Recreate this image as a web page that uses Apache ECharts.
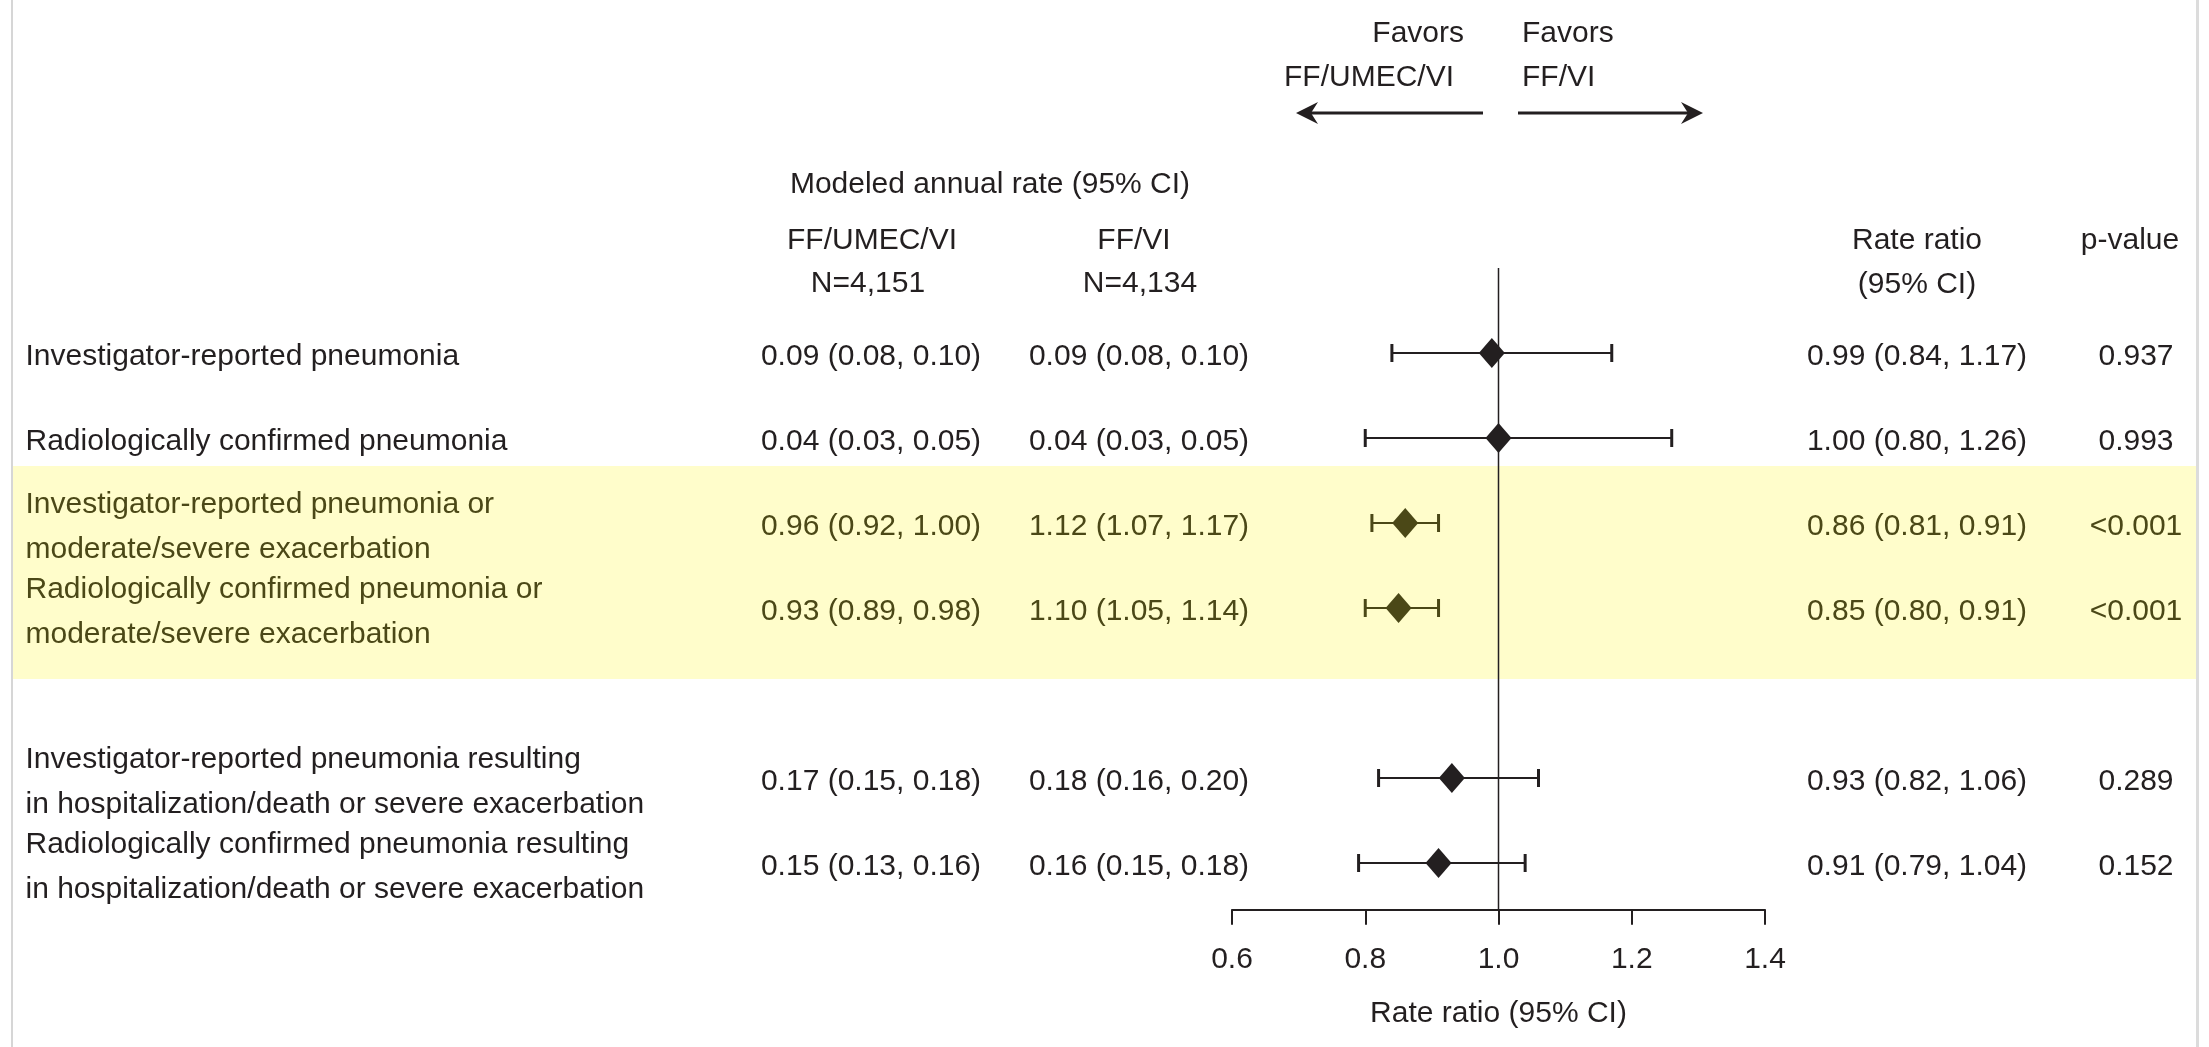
<!DOCTYPE html>
<html>
<head>
<meta charset="utf-8">
<script src="https://cdn.jsdelivr.net/npm/echarts@6/dist/echarts.min.js"></script>
<style>
html,body{margin:0;padding:0;background:#fff;}
#chart{width:2209px;height:1047px;}
</style>
</head>
<body>
<div id="chart"></div>
<script>
// ---------------- DATA ----------------
const outcomes = [
  "Investigator-reported pneumonia",
  "Radiologically confirmed pneumonia",
  "Investigator-reported pneumonia or\nmoderate/severe exacerbation",
  "Radiologically confirmed pneumonia or\nmoderate/severe exacerbation",
  "Investigator-reported pneumonia resulting\nin hospitalization/death or severe exacerbation",
  "Radiologically confirmed pneumonia resulting\nin hospitalization/death or severe exacerbation"
];
const rowIndex = [0, 1, 2, 3, 5, 6];
const highlighted = [false, false, true, true, false, false];

const triRate = [0.09, 0.04, 0.96, 0.93, 0.17, 0.15];
const triLow  = [0.08, 0.03, 0.92, 0.89, 0.15, 0.13];
const triHigh = [0.10, 0.05, 1.00, 0.98, 0.18, 0.16];

const dualRate = [0.09, 0.04, 1.12, 1.10, 0.18, 0.16];
const dualLow  = [0.08, 0.03, 1.07, 1.05, 0.16, 0.15];
const dualHigh = [0.10, 0.05, 1.17, 1.14, 0.20, 0.18];

const rateRatio = [0.99, 1.00, 0.86, 0.85, 0.93, 0.91];
const rrLow     = [0.84, 0.80, 0.81, 0.80, 0.82, 0.79];
const rrHigh    = [1.17, 1.26, 0.91, 0.91, 1.06, 1.04];
const pValues   = ["0.937", "0.993", "<0.001", "<0.001", "0.289", "0.152"];

const xMin = 0.6, xMax = 1.4, xInterval = 0.2;
const refValue = 1.0;

// ---------------- STYLE / LAYOUT ----------------
const FONT = "'Liberation Sans', Arial, Helvetica, sans-serif";
const FS = 30;
const DARK = '#231f20';
const OLIVE = '#4b4817';
const BAND = '#fffdcb';

const gridTop = 268, rowH = 85, yMin = -1, yMax = 6.55;
const gridH = (yMax - yMin) * rowH;

const colLabelX = 25, col1X = 871, col2X = 1139, colRRX = 1917, colPX = 2136;

const fmt = (v) => v.toFixed(2);
const ci = (m, l, h) => fmt(m) + ' (' + fmt(l) + ', ' + fmt(h) + ')';

function textSeries(x, texts, pos) {
  return {
    type: 'scatter', xAxisIndex: 1, yAxisIndex: 1, z: 5,
    symbolSize: 1, itemStyle: {color: 'transparent', opacity: 1}, silent: true,
    data: texts.map((t, i) => ({
      value: [x, rowIndex[i]],
      label: {
        show: true, formatter: t, position: pos, distance: 0, opacity: 1,
        offset: [0, 4],
        color: highlighted[i] ? OLIVE : DARK,
        fontFamily: FONT, fontSize: FS, lineHeight: 45,
        align: pos === 'right' ? 'left' : (pos === 'left' ? 'right' : 'center')
      }
    }))
  };
}

const chart = echarts.init(document.getElementById('chart'), null, {renderer: 'canvas'});

function gText(text, x, y, align, color) {
  return {type: 'text', z: 10, style: {text: text, x: x, y: y, fill: color || DARK,
    font: FS + 'px ' + FONT, textAlign: align || 'center', textVerticalAlign: 'middle'}};
}

const option = {
  backgroundColor: '#ffffff',
  animation: false,
  grid: [
    {left: 1232, width: 533, top: gridTop, height: gridH},
    {left: 0, width: 2209, top: gridTop, height: gridH}
  ],
  xAxis: [
    {
      type: 'value', gridIndex: 0, min: xMin, max: xMax, interval: xInterval,
      axisLine: {show: true, onZero: false, lineStyle: {color: DARK, width: 2}},
      axisTick: {show: true, length: 15, lineStyle: {color: DARK, width: 2}},
      axisLabel: {fontSize: FS, fontFamily: FONT, color: DARK, margin: 35,
        formatter: (v) => v.toFixed(1)},
      splitLine: {show: false},
      name: 'Rate ratio (95% CI)', nameLocation: 'middle', nameGap: 89,
      nameTextStyle: {fontSize: FS, fontFamily: FONT, color: DARK}
    },
    {type: 'value', gridIndex: 1, min: 0, max: 2209, show: false}
  ],
  yAxis: [
    {type: 'value', gridIndex: 0, min: yMin, max: yMax, inverse: true, show: false},
    {type: 'value', gridIndex: 1, min: yMin, max: yMax, inverse: true, show: false}
  ],
  graphic: [
    {type: 'rect', z: 0, shape: {x: 11, y: 0, width: 2, height: 1047}, style: {fill: '#d6d6d6'}},
    {type: 'rect', z: 0, shape: {x: 2196, y: 0, width: 3, height: 1047}, style: {fill: '#dcdcdc'}},
    gText('Favors', 1464, 34, 'right'),
    gText('FF/UMEC/VI', 1454, 78, 'right'),
    gText('Favors', 1522, 34, 'left'),
    gText('FF/VI', 1522, 78, 'left'),
    {type: 'line', z: 10, shape: {x1: 1306, y1: 113, x2: 1483, y2: 113}, style: {stroke: DARK, lineWidth: 3}},
    {type: 'polygon', z: 10, shape: {points: [[1296, 113], [1318, 102], [1311, 113], [1318, 124]]}, style: {fill: DARK}},
    {type: 'line', z: 10, shape: {x1: 1518, y1: 113, x2: 1693, y2: 113}, style: {stroke: DARK, lineWidth: 3}},
    {type: 'polygon', z: 10, shape: {points: [[1703, 113], [1681, 102], [1688, 113], [1681, 124]]}, style: {fill: DARK}},
    gText('Modeled annual rate (95% CI)', 990, 185),
    gText('FF/UMEC/VI', 872, 241),
    gText('N=4,151', 868, 284),
    gText('FF/VI', 1134, 241),
    gText('N=4,134', 1140, 284),
    gText('Rate ratio', 1917, 241),
    gText('(95% CI)', 1917, 285),
    gText('p-value', 2130, 241)
  ],
  series: [
    // highlight band
    {
      type: 'scatter', xAxisIndex: 1, yAxisIndex: 1, z: 1, data: [], silent: true,
      markArea: {silent: true, itemStyle: {color: BAND, opacity: 1},
        data: [[{xAxis: 13, yAxis: 1.33}, {xAxis: 2196, yAxis: 3.835}]]}
    },
    // reference line at 1.0
    {
      type: 'line', xAxisIndex: 0, yAxisIndex: 0, z: 3, symbol: 'none', silent: true,
      lineStyle: {color: DARK, width: 1.5},
      data: [[refValue, yMin], [refValue, yMax]]
    },
    // CI whiskers
    {
      type: 'custom', xAxisIndex: 0, yAxisIndex: 0, z: 4, silent: true,
      data: rateRatio.map((v, i) => [rrLow[i], rrHigh[i], rowIndex[i], highlighted[i] ? 1 : 0]),
      renderItem: function (params, api) {
        const p1 = api.coord([api.value(0), api.value(2)]);
        const p2 = api.coord([api.value(1), api.value(2)]);
        const c = api.value(3) ? OLIVE : DARK;
        const s = {stroke: c, lineWidth: 2};
        const cap = 9;
        return {type: 'group', children: [
          {type: 'line', shape: {x1: p1[0], y1: p1[1], x2: p2[0], y2: p2[1]}, style: s},
          {type: 'line', shape: {x1: p1[0], y1: p1[1] - cap, x2: p1[0], y2: p1[1] + cap}, style: {stroke: c, lineWidth: 3}},
          {type: 'line', shape: {x1: p2[0], y1: p2[1] - cap, x2: p2[0], y2: p2[1] + cap}, style: {stroke: c, lineWidth: 3}}
        ]};
      }
    },
    // point estimates
    {
      type: 'scatter', xAxisIndex: 0, yAxisIndex: 0, z: 6, silent: true,
      symbol: 'diamond', symbolSize: [26, 30],
      data: rateRatio.map((v, i) => ({value: [v, rowIndex[i]],
        itemStyle: {color: highlighted[i] ? OLIVE : DARK, opacity: 1}}))
    },
    textSeries(colLabelX, outcomes, 'right'),
    textSeries(col1X, triRate.map((v, i) => ci(v, triLow[i], triHigh[i])), 'inside'),
    textSeries(col2X, dualRate.map((v, i) => ci(v, dualLow[i], dualHigh[i])), 'inside'),
    textSeries(colRRX, rateRatio.map((v, i) => ci(v, rrLow[i], rrHigh[i])), 'inside'),
    textSeries(colPX, pValues, 'inside')
  ]
};
chart.setOption(option);
</script>
</body>
</html>
